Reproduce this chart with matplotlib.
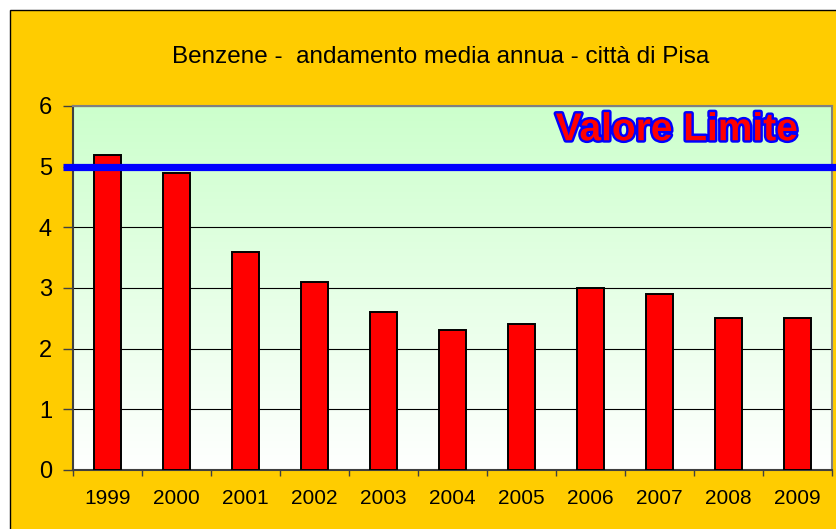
import numpy as np
import matplotlib
matplotlib.use("Agg")
import matplotlib.pyplot as plt
import matplotlib.patheffects as pe
from matplotlib.patches import Rectangle
from matplotlib import font_manager
import matplotlib.transforms as mtransforms

# data
years = ["1999", "2000", "2001", "2002", "2003", "2004", "2005", "2006", "2007", "2008", "2009"]
benzene = [5.2, 4.9, 3.6, 3.1, 2.6, 2.3, 2.4, 3.0, 2.9, 2.5, 2.5]
limit_value = 5
title_text = "Benzene -  andamento media annua - città di Pisa"
limit_label = "Valore Limite"

plt.rcParams['font.family'] = ['Liberation Sans', 'DejaVu Sans']

W, H = 837, 529
fig = plt.figure(figsize=(W / 100, H / 100), dpi=100, facecolor='white')

# yellow chart frame
frame = Rectangle((9.5 / W, -0.1), 1.2, 1 - 9.5 / H + 0.1, transform=fig.transFigure,
                  facecolor='#FFCC00', edgecolor='black', linewidth=1, zorder=-5)
fig.patches.append(frame)

ax = fig.add_axes([73 / W, (H - 470) / H, (832 - 73) / W, (470 - 106) / H])
ax.set_facecolor('none')
ax.set_zorder(1)

n = len(years)
ax.set_xlim(0, n)
ax.set_ylim(0, 6)

# green -> white gradient background
grad = np.linspace(0, 1, 256).reshape(-1, 1)
top = np.array([204, 255, 204]) / 255
bottom = np.array([255, 255, 255]) / 255
img = bottom + (top - bottom) * grad[::-1]
img = np.repeat(img[:, None, :], 2, axis=1)
ax.imshow(img, extent=[0, n, 0, 6], aspect='auto', zorder=0, origin='upper')

# gridlines
ax.set_yticks(range(0, 7))
ax.yaxis.grid(True, color='black', linewidth=0.8, zorder=1)
ax.set_axisbelow(True)

x = np.arange(n) + 0.5
ax.bar(x, benzene, width=0.39, color='#FF0000', edgecolor='black', linewidth=1.4, zorder=3)

# limit line, runs past the axes on both sides
trans = mtransforms.blended_transform_factory(ax.transAxes, ax.transData)
ax.plot([-10 / 759, 1.02], [limit_value, limit_value], color='#0000FF', linewidth=5.2,
        transform=trans, clip_on=False, zorder=4, solid_capstyle='butt')

# narrow bold face for the label if one is around
condensed = [f for f in font_manager.fontManager.ttflist
             if f.name == 'DejaVu Sans' and f.stretch == 'condensed' and f.weight == 'bold']
if condensed:
    lbl_font = dict(family='DejaVu Sans', fontstretch='condensed', fontsize=29)
else:
    lbl_font = dict(family='Liberation Sans', fontsize=28)
ax.text(8.75, 5.6, limit_label, fontweight='bold', color='#FF0000', ha='center', va='center',
        zorder=5, path_effects=[pe.withStroke(linewidth=3.5, foreground='#0000FF')], **lbl_font)

# ticks
ax.set_xticks(np.arange(0, n + 1))
ax.set_xticklabels([])
ax.set_xticks(x, minor=True)
ax.set_xticklabels(years, minor=True, fontsize=15)
ax.tick_params(axis='x', which='major', direction='out', length=4.3, width=1, color='#404040')
ax.tick_params(axis='x', which='minor', length=0, pad=14)
ax.tick_params(axis='y', direction='out', length=7.2, width=1, color='#404040', labelsize=17, pad=8)

for s in ['left', 'bottom']:
    ax.spines[s].set_color('#404040')
    ax.spines[s].set_linewidth(1.5)
for s in ['top', 'right']:
    ax.spines[s].set_color('#808080')
    ax.spines[s].set_linewidth(1.5)

fig.text(441 / W, 1 - 57 / H, title_text, fontsize=17.5, ha='center', va='center')

fig.savefig('out.png', dpi=100, facecolor=fig.get_facecolor())
